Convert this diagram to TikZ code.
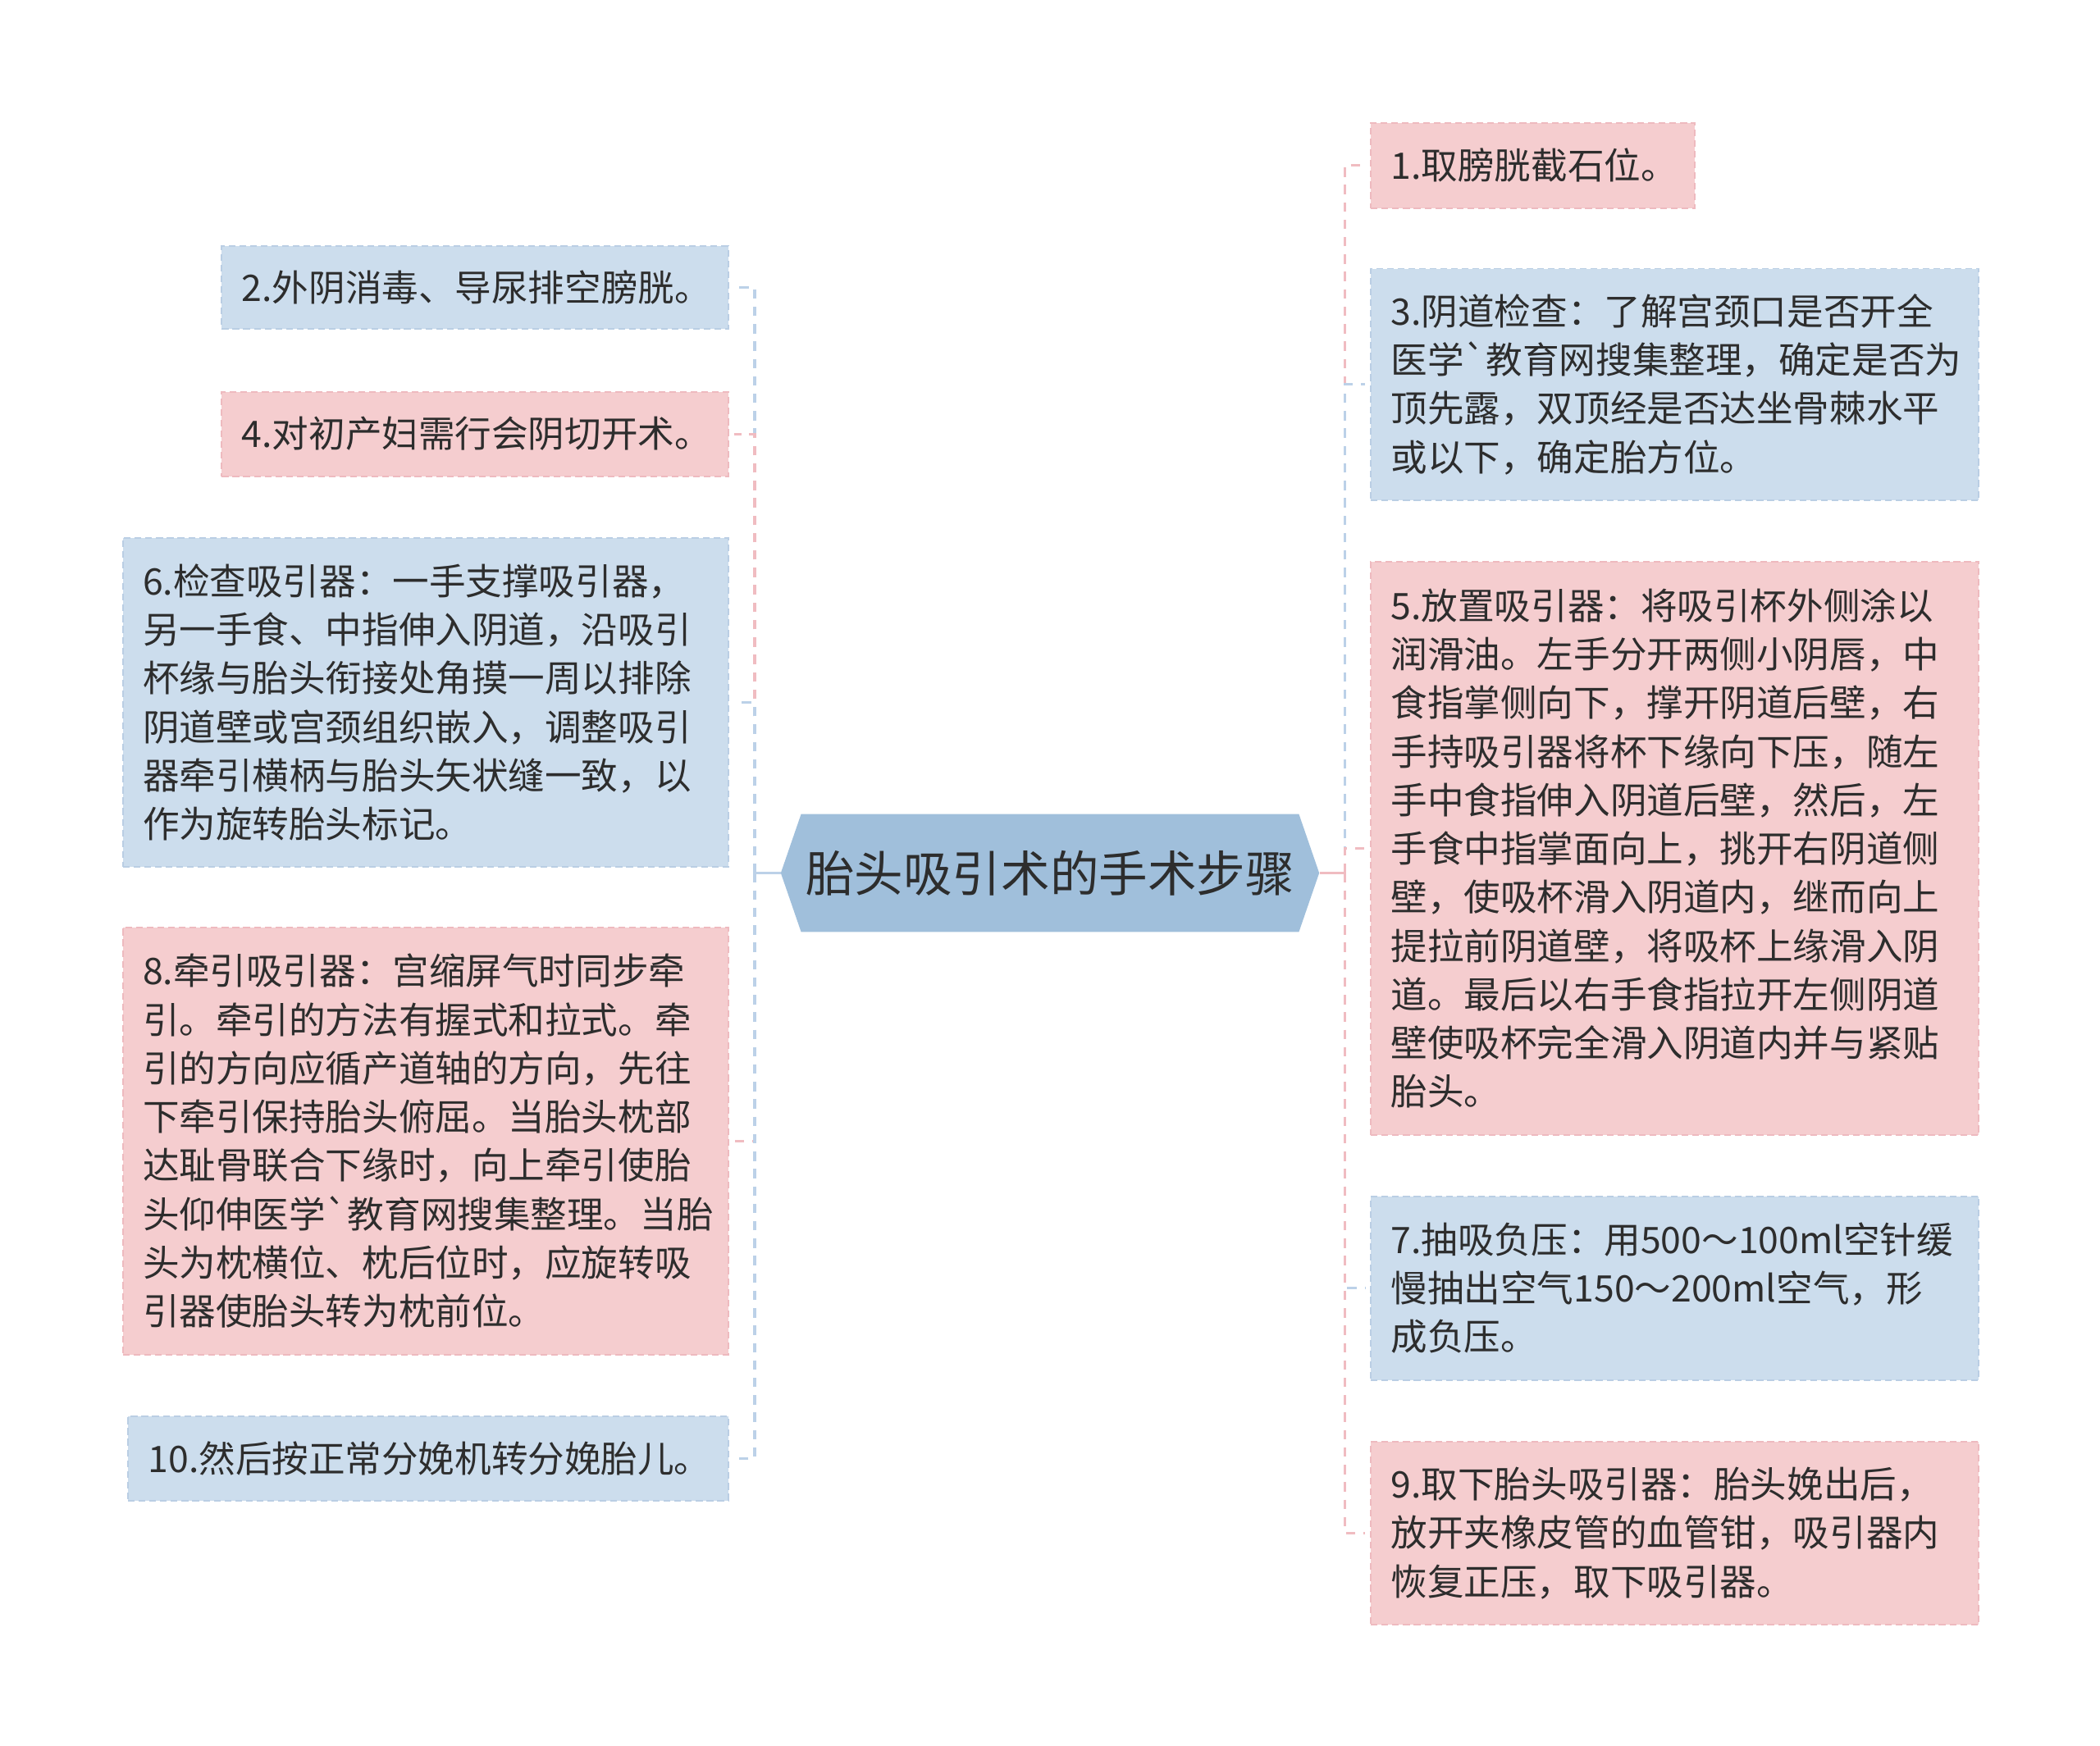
\documentclass[tikz,border=0pt]{standalone}
\usepackage{fontspec}
\newfontfamily\cjk[Ligatures=TeXOff]{Noto Sans CJK SC}
\usetikzlibrary{shapes.symbols}
\definecolor{kblue}{RGB}{204,221,237}
\definecolor{kpink}{RGB}{245,205,207}
\definecolor{kbluedash}{RGB}{186,206,228}
\definecolor{kpinkdash}{RGB}{238,186,191}
\definecolor{kbluelink}{RGB}{188,209,232}
\definecolor{kpinklink}{RGB}{240,188,193}
\definecolor{ktitle}{RGB}{160,191,219}
\definecolor{ktext}{RGB}{45,45,45}

\tikzset{
  stepbox/.style={anchor=north west, inner xsep=15pt, inner ysep=0pt,
                  align=left, text=ktext, line width=1.2pt,
                  dash pattern=on 5pt off 3pt,
                  font=\cjk\fontsize{27.3}{36.3}\selectfont},
  bluebox/.style={stepbox, fill=kblue, draw=kbluedash},
  pinkbox/.style={stepbox, fill=kpink, draw=kpinkdash},
  bluelink/.style={draw=kbluelink, line width=2pt},
  pinklink/.style={draw=kpinklink, line width=2pt},
  branch/.style={dash pattern=on 7pt off 6pt, shorten >=4pt}
}

\begin{document}
\begin{tikzpicture}[x=1pt, y=-1pt]
        \useasboundingbox[fill=white] (0,0) rectangle (1568,1304);

        % title
        \node[shape=signal, signal to=west and east, signal pointer angle=142,
              fill=ktitle, minimum width=402pt, minimum height=88pt, inner sep=0pt,
              text=ktext, font=\cjk\fontsize{36.5}{40}\selectfont]
              (title) at (784,652) {胎头吸引术的手术步骤};
        \coordinate (ltrunk) at (563.5,652);
        \coordinate (rtrunk) at (1004,652);

        % left steps
        \node[bluebox, text width=348pt, minimum height=62pt] (s2) at (165,183)
            {2.外阴消毒、导尿排空膀胱。};
        \node[pinkbox, text width=348pt, minimum height=63pt] (s4) at (165,292)
            {4.对初产妇需行会阴切开术。};
        \node[bluebox, text width=422pt, minimum height=246pt] (s6) at (91,401)
            {6.检查吸引器：一手支撑吸引器，\\另一手食、中指伸入阴道，沿吸引\\杯缘与胎头衔接处角摸一周以排除\\阴道壁或宫颈组织嵌入，调整吸引\\器牵引横柄与胎头矢状缝一致，以\\作为旋转胎头标记。};
        \node[pinkbox, text width=422pt, minimum height=319pt] (s8) at (91,692)
            {8.牵引吸引器：宫缩屏气时同步牵\\引。牵引的方法有握式和拉式。牵\\引的方向应循产道轴的方向，先往\\下牵引保持胎头俯屈。当胎头枕部\\达耻骨联合下缘时，向上牵引使胎\\头仰伸医学`教育网搜集整理。当胎\\头为枕横位、枕后位时，应旋转吸\\引器使胎头转为枕前位。};
        \node[bluebox, text width=418pt, minimum height=63pt] (s10) at (95,1057)
            {10.然后按正常分娩机转分娩胎儿。};

        % right steps
        \node[pinkbox, text width=212pt, minimum height=64pt] (s1) at (1023,91)
            {1.取膀胱截石位。};
        \node[bluebox, text width=424pt, minimum height=173pt] (s3) at (1023,200)
            {3.阴道检查：了解宫颈口是否开全\\医学`教育网搜集整理，确定是否为\\顶先露，双顶经是否达坐骨棘水平\\或以下，确定胎方位。};
        \node[pinkbox, text width=424pt, minimum height=428pt] (s5) at (1023,419)
            {5.放置吸引器：将吸引杯外侧涂以\\润滑油。左手分开两侧小阴唇，中\\食指掌侧向下，撑开阴道后壁，右\\手持吸引器将杯下缘向下压，随左\\手中食指伸入阴道后壁，然后，左\\手食中指掌面向上，挑开右阴道侧\\壁，使吸杯滑入阴道内，继而向上\\提拉前阴道壁，将吸杯上缘滑入阴\\道。最后以右手食指拉开左侧阴道\\壁使吸杯完全滑入阴道内并与紧贴\\胎头。};
        \node[bluebox, text width=424pt, minimum height=137pt] (s7) at (1023,893)
            {7.抽吸负压：用500～100ml空针缓\\慢抽出空气150～200ml空气，形\\成负压。};
        \node[pinkbox, text width=424pt, minimum height=137pt] (s9) at (1023,1076)
            {9.取下胎头吸引器：胎头娩出后，\\放开夹橡皮管的血管钳，吸引器内\\恢复正压，取下吸引器。};

        % left branches
        \draw[bluelink] (title.west) -- (ltrunk);
        \draw[bluelink, branch] (ltrunk) |- (s2.east);
        \draw[pinklink, branch] (ltrunk) |- (s4.east);
        \draw[bluelink, branch] (ltrunk) |- (s6.east);
        \draw[pinklink, branch] (ltrunk) |- (s8.east);
        \draw[bluelink, branch] (ltrunk) |- (s10.east);

        % right branches
        \draw[pinklink] (title.east) -- (rtrunk);
        \draw[pinklink, branch] (rtrunk) |- (s1.west);
        \draw[bluelink, branch] (rtrunk) |- (s3.west);
        \draw[pinklink, branch] (rtrunk) |- (s5.west);
        \draw[bluelink, branch] (rtrunk) |- (s7.west);
        \draw[pinklink, branch] (rtrunk) |- (s9.west);
\end{tikzpicture}
\end{document}
